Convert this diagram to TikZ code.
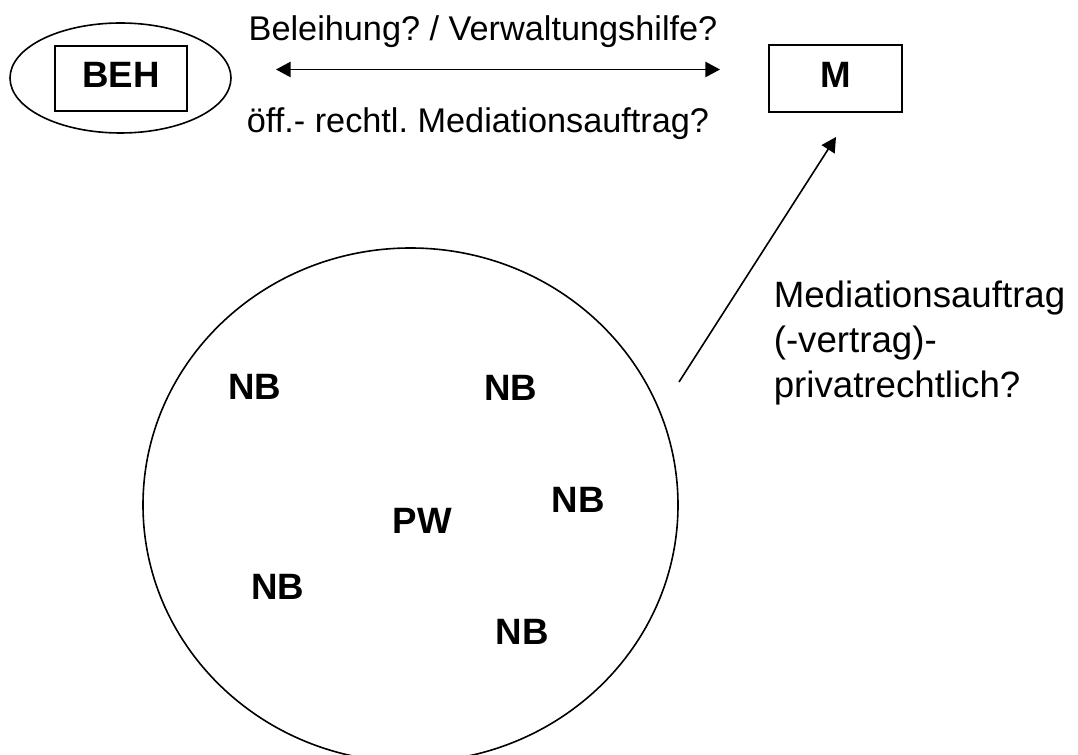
\documentclass[tikz,border=0pt]{standalone}
\usepackage{fontspec}
\setmainfont{Liberation Sans}
\usetikzlibrary{arrows.meta,shapes.geometric}
\frenchspacing

\begin{document}
\begin{tikzpicture}[
  x=0.75pt, y=-0.75pt,
  line width=1.2pt,
  labeltext/.style={inner sep=0pt, font=\fontsize{25.7}{30}\selectfont},
  sidetext/.style={inner sep=0pt, anchor=base west, font=\fontsize{27.5}{33}\selectfont},
  party/.style={inner sep=0pt, font=\fontsize{27.5}{33}\selectfont\bfseries},
  boxnode/.style={draw, inner sep=0pt, text height=20pt,
    font=\fontsize{27.5}{33}\selectfont\bfseries},
  tipstyle/.style={-{Triangle[length=11pt, width=11.5pt]}},
  bothtips/.style={{Triangle[length=11pt, width=11.5pt]}-{Triangle[length=11pt, width=11.5pt]}}
]
\useasboundingbox (0,0) rectangle (1078,755);

% authority: box inside an ellipse
\node[draw, ellipse, inner sep=0pt, minimum width=165.75pt, minimum height=82.5pt]
  (behring) at (120.5,78) {};
\node[boxnode, text depth=7pt, minimum width=99pt, minimum height=48.75pt]
  (beh) at (121,78.5) {BEH};

% mediator box
\node[boxnode, text depth=6pt, minimum width=99.75pt, minimum height=50.25pt]
  (m) at (835.5,78.5) {M};

% relation between authority and mediator
\coordinate (la) at (276,69.5);
\coordinate (ra) at (720,69.5);
\draw[bothtips] (la) -- (ra);
\node[labeltext, anchor=base] (rel1) at (483,40.5) {Beleihung? / Verwaltungshilfe?};
\node[labeltext, anchor=base] (rel2) at (478,133) {öff.- rechtl. Mediationsauftrag?};

% group of parties
\node[draw, ellipse, inner sep=0pt, minimum width=401.25pt, minimum height=385.5pt]
  (group) at (410.5,505) {};
\node[party] (nb1) at (255,387) {NB};
\node[party] (nb2) at (511,388) {NB};
\node[party] (nb3) at (578,499.5) {NB};
\node[party] (pw)  at (422.5,521) {PW};
\node[party] (nb4) at (278,587) {NB};
\node[party] (nb5) at (522,631.5) {NB};

% private-law mandate towards the mediator
\coordinate (dt) at (679,382);
\coordinate (dh) at (836,137);
\draw[tipstyle] (dt) -- (dh);
\node[sidetext] (s1) at (773,308) {Mediationsauftrag};
\node[sidetext] (s2) at (773,353) {(-vertrag)-};
\node[sidetext] (s3) at (773,398) {privatrechtlich?};
\end{tikzpicture}
\end{document}
